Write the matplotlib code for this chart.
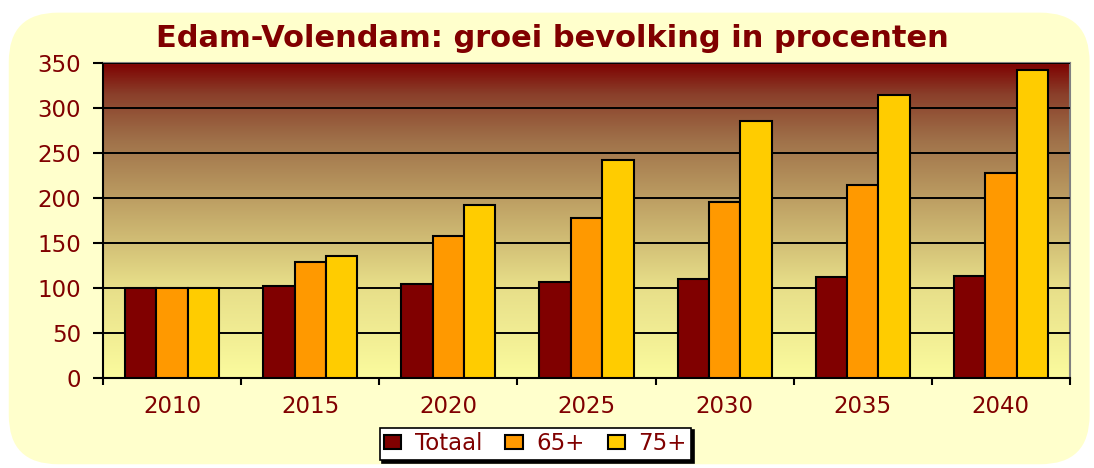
import numpy as np
import matplotlib.pyplot as plt
from matplotlib.colors import LinearSegmentedColormap
from matplotlib.patches import FancyBboxPatch

plt.rcParams['font.family'] = ['DejaVu Sans']

# data
years = ['2010', '2015', '2020', '2025', '2030', '2035', '2040']
totaal = [100, 102, 105, 107, 110, 112, 113]
plus65 = [100, 129, 158, 178, 196, 214, 228]
plus75 = [100, 136, 192, 242, 286, 314, 342]

dark_red = '#800000'

fig = plt.figure(figsize=(10.94, 4.68), dpi=100)
fig.patch.set_facecolor('white')

# rounded pale-yellow chart background
bg = FancyBboxPatch((0.008, 0.008), 0.988, 0.965, boxstyle='round,pad=0,rounding_size=0.045',
                    transform=fig.transFigure, facecolor='#FFFFCC', edgecolor='none',
                    mutation_aspect=1094 / 468, zorder=-5)
fig.patches.append(bg)

ax = fig.add_axes([0.0942, 0.1923, 0.8838, 0.6731])
ax.set_facecolor('none')

# gradient plot area: dark red at top fading to pale yellow
cmap = LinearSegmentedColormap.from_list(
    'grad', [(0.0, '#FBFB9E'), (0.3, '#E6DD88'), (0.55, '#BFA265'),
             (0.75, '#A0724A'), (0.9, '#8A3F2A'), (1.0, '#7E0000')])
grad = np.linspace(0, 1, 256).reshape(-1, 1)
x = np.arange(len(years))
ax.imshow(grad, cmap=cmap, origin='lower', aspect='auto',
          extent=[-0.5, len(years) - 0.5, 0, 350], zorder=0)

ax.set_ylim(0, 350)
ax.set_xlim(-0.5, len(years) - 0.5)
ax.set_yticks(range(0, 351, 50))
ax.yaxis.grid(True, color='black', linewidth=1.4, zorder=1)
ax.set_axisbelow(False)

w = 0.227
ax.bar(x - w, totaal, w, color=dark_red, edgecolor='black', linewidth=1.5, label='Totaal', zorder=3)
ax.bar(x, plus65, w, color='#FF9900', edgecolor='black', linewidth=1.5, label='65+', zorder=3)
ax.bar(x + w, plus75, w, color='#FFCC00', edgecolor='black', linewidth=1.5, label='75+', zorder=3)

# category ticks between groups, labels centred
ax.set_xticks(np.arange(-0.5, len(years), 1))
ax.set_xticklabels([])
ax.set_xticks(x, minor=True)
ax.set_xticklabels(years, minor=True)
ax.tick_params(axis='x', which='major', length=5, width=1.5, direction='out')
ax.tick_params(axis='x', which='minor', length=0, pad=12, labelsize=16.5, labelcolor=dark_red)
ax.tick_params(axis='y', length=7, width=1.5, direction='out', labelsize=16.5,
               labelcolor=dark_red, pad=9)

for side in ['left', 'bottom']:
    ax.spines[side].set_color('black')
    ax.spines[side].set_linewidth(1.5)
for side in ['top', 'right']:
    ax.spines[side].set_color('#808080')
    ax.spines[side].set_linewidth(1.5)

fig.text(0.505, 0.918, 'Edam-Volendam: groei bevolking in procenten', ha='center', va='center',
         fontsize=22, fontweight='bold', color=dark_red)

leg = fig.legend(loc='center', bbox_to_anchor=(0.4895, 0.052), ncol=3, frameon=True,
                 fancybox=False, shadow={'color': 'black', 'alpha': 1.0}, fontsize=16.5,
                 handlelength=0.75, handleheight=0.6, handletextpad=0.6, columnspacing=1.0,
                 borderpad=0.2, borderaxespad=0)
leg.get_frame().set_edgecolor('black')
leg.get_frame().set_linewidth(1.2)
leg.get_frame().set_facecolor('white')
for t in leg.get_texts():
    t.set_color(dark_red)

fig.savefig('out.png', dpi=100)
